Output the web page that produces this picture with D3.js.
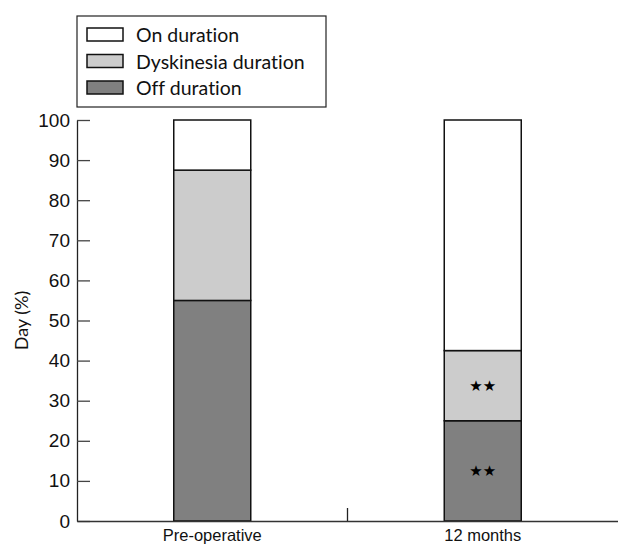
<!DOCTYPE html>
<html>
<head>
<meta charset="utf-8">
<script src="https://cdn.jsdelivr.net/npm/d3@7"></script>
<style>
  html, body { margin: 0; padding: 0; background: #fff; }
  svg { display: block; font-family: "Lato", "Noto Sans", sans-serif; font-variant-ligatures: none; }
</style>
</head>
<body>
<div id="chart"></div>
<script>
const categories = ['Pre-operative', '12 months'];
const offDuration = [55, 25];
const dyskinesiaDuration = [32.5, 17.5];
const onDuration = [12.5, 57.5];
const yTicks = [0, 10, 20, 30, 40, 50, 60, 70, 80, 90, 100];
const seriesNames = ['On duration', 'Dyskinesia duration', 'Off duration'];
const offMarks = ['', '★★'];
const dyskMarks = ['', '★★'];

const width = 618, height = 545;
const margin = { top: 120, right: 0, bottom: 24, left: 77 };
const innerW = width - margin.left - margin.right;
const innerH = height - margin.top - margin.bottom;
const barWidth = 77;

const colors = {
  'Off duration': '#808080',
  'Dyskinesia duration': '#cccccc',
  'On duration': '#ffffff'
};

// stack order: off at bottom, dyskinesia, then on
const rows = categories.map((c, i) => ({
  category: c,
  'Off duration': offDuration[i],
  'Dyskinesia duration': dyskinesiaDuration[i],
  'On duration': onDuration[i]
}));
const stacked = d3.stack().keys(['Off duration', 'Dyskinesia duration', 'On duration'])(rows);

const svg = d3.select('#chart').append('svg')
  .attr('width', width)
  .attr('height', height);

const g = svg.append('g')
  .attr('transform', `translate(${margin.left},${margin.top})`);

const x = d3.scaleBand().domain(categories).range([0, innerW]).padding(0);
const y = d3.scaleLinear().domain([0, 100]).range([innerH, 0]);

// bars
stacked.forEach(layer => {
  g.selectAll(null)
    .data(layer)
    .enter().append('rect')
    .attr('x', d => x(d.data.category) + x.bandwidth() / 2 - barWidth / 2)
    .attr('y', d => y(d[1]))
    .attr('width', barWidth)
    .attr('height', d => y(d[0]) - y(d[1]))
    .attr('fill', colors[layer.key])
    .attr('stroke', '#111')
    .attr('stroke-width', 1.5);
});

// significance stars
[[stacked[0], offMarks], [stacked[1], dyskMarks]].forEach(([layer, marks]) => {
  g.selectAll(null)
    .data(layer)
    .enter().append('text')
    .attr('x', d => x(d.data.category) + x.bandwidth() / 2)
    .attr('y', d => y((d[0] + d[1]) / 2) + 5)
    .attr('text-anchor', 'middle')
    .style('font-family', '"DejaVu Sans", sans-serif')
    .style('font-size', '15px')
    .style('fill', '#000')
    .text((d, i) => marks[i]);
});

// y axis
const yAxis = g.append('g')
  .call(d3.axisLeft(y).tickValues(yTicks).tickSize(0).tickPadding(7));
yAxis.select('.domain').attr('stroke', '#222').attr('stroke-width', 1.3);
yAxis.selectAll('.tick line').remove();
yAxis.selectAll('.tick').append('line')
  .attr('x1', 0).attr('x2', 13)
  .attr('stroke', '#444').attr('stroke-width', 1.3);
yAxis.selectAll('.tick text')
  .style('font-size', '19px')
  .style('fill', '#111');

// x axis
const xAxis = g.append('g')
  .attr('transform', `translate(0,${innerH})`)
  .call(d3.axisBottom(x).tickSize(0).tickPadding(6));
xAxis.select('.domain').attr('stroke', '#333').attr('stroke-width', 1.5);
xAxis.selectAll('.tick text')
  .attr('dy', '0.85em')
  .style('font-size', '16.5px')
  .style('fill', '#111');
// divider tick between categories
xAxis.append('line')
  .attr('x1', x(categories[1])).attr('x2', x(categories[1]))
  .attr('y1', 0).attr('y2', -13)
  .attr('stroke', '#222').attr('stroke-width', 1.3);

// y label
svg.append('text')
  .attr('transform', `translate(28,${margin.top + y(50)}) rotate(-90)`)
  .attr('text-anchor', 'middle')
  .style('font-size', '18px')
  .style('fill', '#111')
  .text('Day (%)');

// legend
const legend = svg.append('g').attr('transform', 'translate(77,16)');
legend.append('rect')
  .attr('width', 249).attr('height', 91)
  .attr('fill', '#fff')
  .attr('stroke', '#222').attr('stroke-width', 1.2);
const items = legend.selectAll('.legend-item')
  .data(seriesNames)
  .enter().append('g')
  .attr('class', 'legend-item')
  .attr('transform', (d, i) => `translate(10, ${12 + i * 26.5})`);
items.append('rect')
  .attr('width', 36).attr('height', 13)
  .attr('fill', d => colors[d])
  .attr('stroke', '#111').attr('stroke-width', 1.5);
items.append('text')
  .attr('x', 49).attr('y', 14)
  .style('font-size', '19.5px')
  .style('fill', '#111')
  .text(d => d);
</script>
</body>
</html>
